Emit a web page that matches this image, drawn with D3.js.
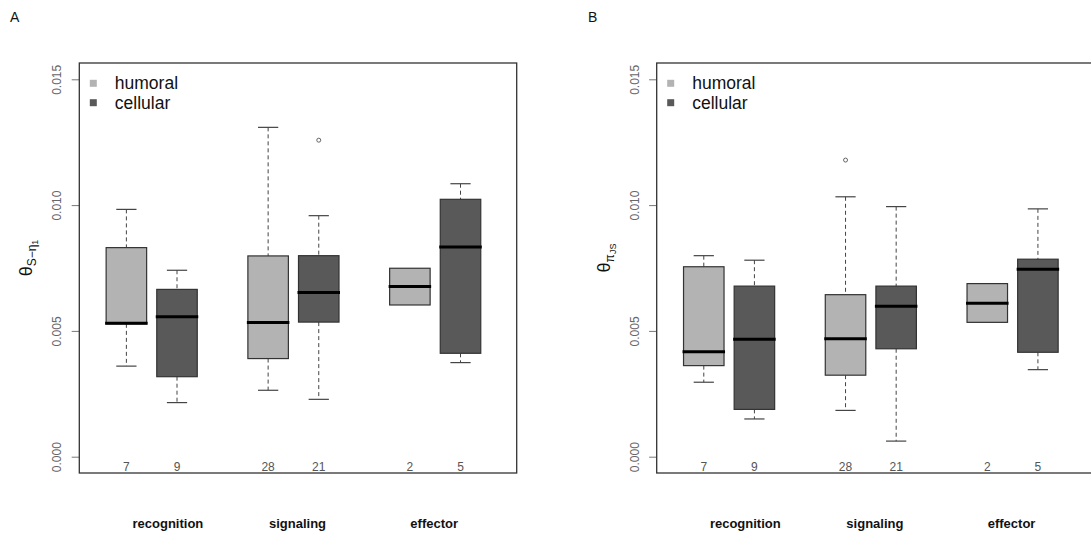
<!DOCTYPE html>
<html><head><meta charset="utf-8">
<script src="https://cdn.jsdelivr.net/npm/d3@7"></script>
<style>body{margin:0;background:#fff}svg{display:block}text{font-family:"Liberation Sans",Arial,sans-serif}</style>
</head><body>
<svg id="c" width="1091" height="535"></svg>
<script>
const groups = ["recognition", "signaling", "effector"];
const types = ["humoral", "cellular"];
const counts = [7, 9, 28, 21, 2, 5];
const positions = [1, 2, 3.8, 4.8, 6.6, 7.6];
const groupLabelAt = [1.82, 4.38, 7.08];
const yTicks = [0, 0.005, 0.010, 0.015];

// Panel A
const aLow  = [0.00360, 0.00215, 0.00264, 0.00228, 0.00603, 0.00374];
const aQ1   = [0.00528, 0.00318, 0.00390, 0.00535, 0.00603, 0.00411];
const aMed  = [0.00530, 0.00556, 0.00533, 0.00653, 0.00676, 0.00833];
const aQ3   = [0.00831, 0.00665, 0.00798, 0.00799, 0.00749, 0.01023];
const aHigh = [0.00983, 0.00741, 0.01309, 0.00958, 0.00749, 0.01085];
const aOut  = [[], [], [], [0.01258], [], []];

// Panel B
const bLow  = [0.00296, 0.00150, 0.00184, 0.00062, 0.00534, 0.00346];
const bQ1   = [0.00362, 0.00188, 0.00324, 0.00429, 0.00534, 0.00415];
const bMed  = [0.00417, 0.00467, 0.00469, 0.00598, 0.00610, 0.00745];
const bQ3   = [0.00755, 0.00678, 0.00644, 0.00678, 0.00688, 0.00785];
const bHigh = [0.00799, 0.00781, 0.01033, 0.00994, 0.00688, 0.00985];
const bOut  = [[], [], [0.01179], [], [], []];

const colors = {humoral: "#b3b3b3", cellular: "#595959"};
const svg = d3.select("#c");

function panel(opts) {
  const {left, letter, letterX, stats, ylab} = opts;
  const width = 437.4, top = 63, bottom = 473;
  const right = left + width;
  const g = svg.append("g");
  const x = d3.scaleLinear().domain([0.07, 8.71]).range([left, right]);
  const y = d3.scaleLinear().domain([0, 0.015]).range([456.7, 79.3]);
  const unit = x(1) - x(0);
  const bw = 0.8 * unit;

  g.append("text").attr("x", letterX).attr("y", 22).attr("font-size", 14).attr("fill", "#111").text(letter);

  // y axis
  const axis = d3.axisLeft(y).tickValues(yTicks).tickSize(7.6).tickFormat(d3.format(".3f"));
  const ag = g.append("g").attr("transform", `translate(${left},0)`).call(axis);
  ag.select(".domain").remove();
  ag.selectAll(".tick line").attr("stroke", "#777").attr("stroke-width", 1);
  ag.selectAll(".tick text")
    .attr("x", null).attr("dy", null)
    .attr("transform", d => `translate(${-21},0) rotate(-90)`)
    .attr("text-anchor", "middle").attr("dominant-baseline", "middle")
    .attr("font-size", 12).attr("fill", "#666")
    .attr("font-family", "Liberation Sans, Arial, sans-serif");

  // y label
  const yl = g.append("text")
    .attr("transform", `translate(${left - 47},${258}) rotate(-90)`)
    .attr("text-anchor", "middle").attr("font-size", 18).attr("fill", "#111");
  yl.append("tspan").text("θ");
  ylab(yl);

  // boxes
  const n = counts.length;
  for (let i = 0; i < n; i++) {
    const cx = x(positions[i]);
    const col = colors[types[i % 2]];
    const lo = stats.low[i], q1 = stats.q1[i], md = stats.med[i], q3 = stats.q3[i], hi = stats.high[i];
    if (hi > q3) {
      g.append("line").attr("x1", cx).attr("x2", cx).attr("y1", y(hi)).attr("y2", y(q3))
        .attr("stroke", "#444").attr("stroke-dasharray", "4,3");
      g.append("line").attr("x1", cx - bw / 4).attr("x2", cx + bw / 4).attr("y1", y(hi)).attr("y2", y(hi))
        .attr("stroke", "#444").attr("stroke-width", 1.2);
    }
    if (lo < q1) {
      g.append("line").attr("x1", cx).attr("x2", cx).attr("y1", y(q1)).attr("y2", y(lo))
        .attr("stroke", "#444").attr("stroke-dasharray", "4,3");
      g.append("line").attr("x1", cx - bw / 4).attr("x2", cx + bw / 4).attr("y1", y(lo)).attr("y2", y(lo))
        .attr("stroke", "#444").attr("stroke-width", 1.2);
    }
    g.append("rect").attr("x", cx - bw / 2).attr("width", bw)
      .attr("y", y(q3)).attr("height", y(q1) - y(q3))
      .attr("fill", col).attr("stroke", "#333").attr("stroke-width", 1.2);
    g.append("line").attr("x1", cx - bw / 2 - 1).attr("x2", cx + bw / 2 + 1).attr("y1", y(md)).attr("y2", y(md))
      .attr("stroke", "#000").attr("stroke-width", 3);
    stats.out[i].forEach(v => {
      g.append("circle").attr("cx", cx).attr("cy", y(v)).attr("r", 2)
        .attr("fill", "none").attr("stroke", "#555").attr("stroke-width", 0.9);
    });
    g.append("text").attr("x", cx).attr("y", 470.5).attr("text-anchor", "middle")
      .attr("font-size", 12).attr("fill", "#555").text(counts[i]);
  }

  g.append("rect").attr("x", left).attr("y", top).attr("width", width).attr("height", bottom - top)
    .attr("fill", "none").attr("stroke", "#333").attr("stroke-width", 1.3);

  types.forEach((t, k) => {
    const ly = 83.3 + k * 19.4;
    g.append("rect").attr("x", left + 10.5).attr("y", ly - 3.5).attr("width", 7).attr("height", 7)
      .attr("fill", colors[t]);
    g.append("text").attr("x", left + 35.5).attr("y", ly + 6).attr("font-size", 17.5)
      .attr("fill", "#111").text(t);
  });

  groups.forEach((gr, k) => {
    g.append("text").attr("x", x(groupLabelAt[k])).attr("y", 528).attr("text-anchor", "middle")
      .attr("font-size", 13).attr("font-weight", "bold").attr("fill", "#111").text(gr);
  });
}

panel({
  left: 79.3, letter: "A", letterX: 10,
  stats: {low: aLow, q1: aQ1, med: aMed, q3: aQ3, high: aHigh, out: aOut},
  ylab: t => {
    t.append("tspan").attr("font-size", 12).attr("dy", 4).text("S−η");
    t.append("tspan").attr("font-size", 9).attr("dy", 2).text("1");
  }
});
panel({
  left: 656.7, letter: "B", letterX: 588,
  stats: {low: bLow, q1: bQ1, med: bMed, q3: bQ3, high: bHigh, out: bOut},
  ylab: t => {
    t.append("tspan").attr("font-size", 12).attr("dy", 4).text("π");
    t.append("tspan").attr("font-size", 9).attr("dy", 2).text("JS");
  }
});
</script>
</body></html>
